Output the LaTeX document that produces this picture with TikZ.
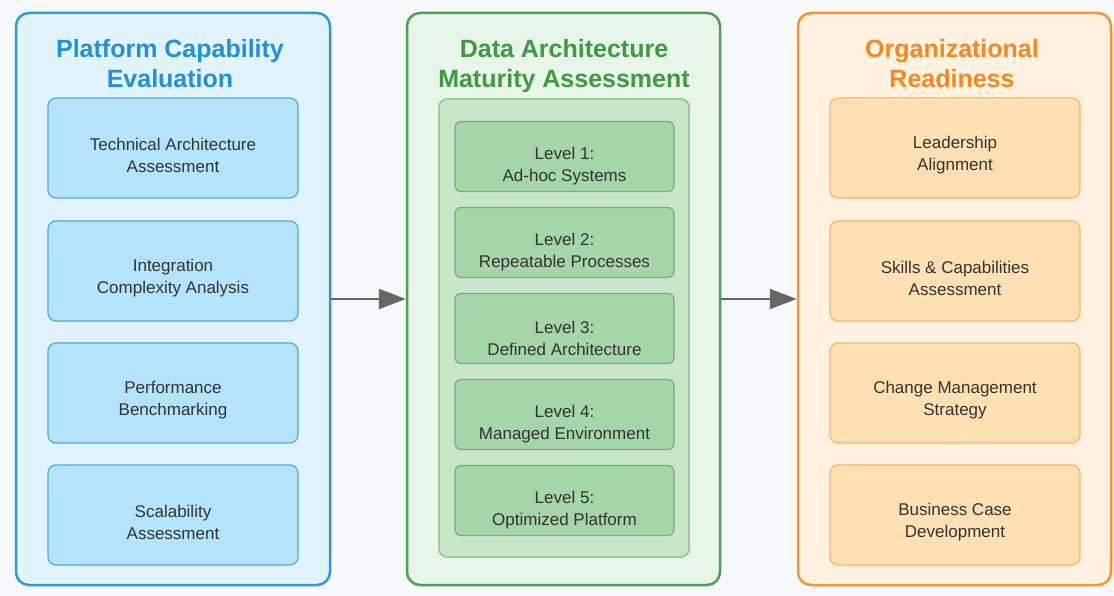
\documentclass[tikz,border=0pt]{standalone}
\usepackage{fontspec}
\setmainfont{Liberation Sans}
\usetikzlibrary{arrows.meta}
\definecolor{bgc}{HTML}{F7F8FA}
\definecolor{bStroke}{HTML}{2D9BDB}
\definecolor{bFill}{HTML}{E1F4FD}
\definecolor{bTitle}{HTML}{2290DA}
\definecolor{bInFill}{HTML}{B3E4FB}
\definecolor{bInStroke}{HTML}{4FAADF}
\definecolor{gStroke}{HTML}{4E9F52}
\definecolor{gFill}{HTML}{E8F5E9}
\definecolor{gTitle}{HTML}{3F9A44}
\definecolor{gContFill}{HTML}{C8E6C9}
\definecolor{gContStroke}{HTML}{8CC78F}
\definecolor{gInFill}{HTML}{A5D6A7}
\definecolor{gInStroke}{HTML}{6BB56F}
\definecolor{oStroke}{HTML}{F7922C}
\definecolor{oFill}{HTML}{FFF2E0}
\definecolor{oTitle}{HTML}{F5891F}
\definecolor{oInFill}{HTML}{FFE0B2}
\definecolor{oInStroke}{HTML}{F9B468}
\definecolor{txt}{HTML}{333333}
\definecolor{arr}{HTML}{666666}
\tikzset{
  outerbox/.style={draw, line width=2.5pt, rounded corners=13pt, minimum height=572pt, inner sep=0pt},
  titletext/.style={font=\fontsize{25}{30}\selectfont\bfseries, align=center, anchor=north, inner sep=0pt},
  itembox/.style={draw, line width=1.2pt, rounded corners=8pt, minimum width=250pt, minimum height=100pt, inner sep=0pt},
  levelbox/.style={draw, line width=1.2pt, rounded corners=6pt, minimum width=219pt, minimum height=70pt, inner sep=0pt},
  boxtext/.style={align=center, text=txt, font=\fontsize{17}{22}\selectfont, inner sep=0pt},
  flow/.style={draw=arr, line width=2pt, -{Triangle[length=27pt,width=20pt]}, color=arr}
}
\begin{document}
\begin{tikzpicture}[x=1pt,y=-1pt]
\fill[bgc] (0,0) rectangle (1114,596);
\useasboundingbox (0,0) rectangle (1114,596);

% outer panels
\node[outerbox, draw=bStroke, fill=bFill, minimum width=314pt] (pa) at (173,299) {};
\node[outerbox, draw=gStroke, fill=gFill, minimum width=313pt] (pb) at (563.5,299) {};
\node[outerbox, draw=oStroke, fill=oFill, minimum width=313pt] (pc) at (954.5,299) {};

% titles
\node[titletext, text=bTitle] (ta) at (170,39) {Platform Capability\\Evaluation};
\node[titletext, text=gTitle] (tb) at (564,39) {Data Architecture\\Maturity Assessment};
\node[titletext, text=oTitle] (tc) at (952,39) {Organizational\\Readiness};

% left items
\node[itembox, draw=bInStroke, fill=bInFill] (a1) at (173,148) {};
\node[itembox, draw=bInStroke, fill=bInFill] (a2) at (173,271) {};
\node[itembox, draw=bInStroke, fill=bInFill] (a3) at (173,393) {};
\node[itembox, draw=bInStroke, fill=bInFill] (a4) at (173,515) {};
\node[boxtext] (a1t) at ([yshift=-7pt]a1.center) {Technical Architecture\\Assessment};
\node[boxtext] (a2t) at ([yshift=-7pt]a2.center) {Integration\\Complexity Analysis};
\node[boxtext] (a3t) at ([yshift=-7pt]a3.center) {Performance\\Benchmarking};
\node[boxtext] (a4t) at ([yshift=-7pt]a4.center) {Scalability\\Assessment};

% middle container and levels
\node[draw=gContStroke, fill=gContFill, line width=1.5pt, rounded corners=8pt, minimum width=250pt, minimum height=458pt, inner sep=0pt] (cont) at (564,328) {};
\node[levelbox, draw=gInStroke, fill=gInFill] (l1) at (564.5,156.5) {};
\node[levelbox, draw=gInStroke, fill=gInFill] (l2) at (564.5,242.5) {};
\node[levelbox, draw=gInStroke, fill=gInFill] (l3) at (564.5,328.5) {};
\node[levelbox, draw=gInStroke, fill=gInFill] (l4) at (564.5,414.5) {};
\node[levelbox, draw=gInStroke, fill=gInFill] (l5) at (564.5,500.5) {};
\node[boxtext] (l1t) at ([yshift=-10pt]l1.center) {Level 1:\\Ad-hoc Systems};
\node[boxtext] (l2t) at ([yshift=-10pt]l2.center) {Level 2:\\Repeatable Processes};
\node[boxtext] (l3t) at ([yshift=-10pt]l3.center) {Level 3:\\Defined Architecture};
\node[boxtext] (l4t) at ([yshift=-10pt]l4.center) {Level 4:\\Managed Environment};
\node[boxtext] (l5t) at ([yshift=-10pt]l5.center) {Level 5:\\Optimized Platform};

% right items
\node[itembox, draw=oInStroke, fill=oInFill] (c1) at (955,148) {};
\node[itembox, draw=oInStroke, fill=oInFill] (c2) at (955,271) {};
\node[itembox, draw=oInStroke, fill=oInFill] (c3) at (955,393) {};
\node[itembox, draw=oInStroke, fill=oInFill] (c4) at (955,515) {};
\node[boxtext] (c1t) at ([yshift=-7pt]c1.center) {Leadership\\Alignment};
\node[boxtext] (c2t) at ([yshift=-7pt]c2.center) {Skills \& Capabilities\\Assessment};
\node[boxtext] (c3t) at ([yshift=-7pt]c3.center) {Change Management\\Strategy};
\node[boxtext] (c4t) at ([yshift=-7pt]c4.center) {Business Case\\Development};

% arrows
\draw[flow] (pa.east) -- (pb.west);
\draw[flow] (pb.east) -- (pc.west);
\end{tikzpicture}
\end{document}
